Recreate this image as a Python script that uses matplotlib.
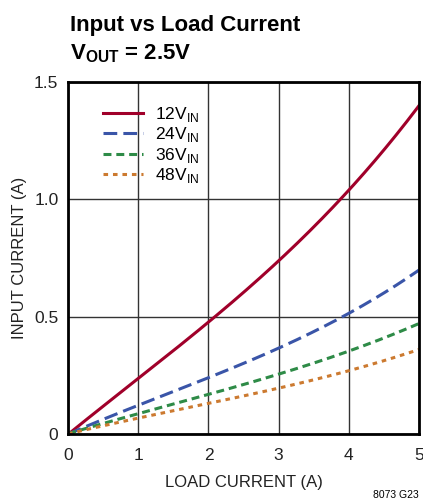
import numpy as np
import matplotlib.pyplot as plt

plt.rcParams['font.family'] = ['Liberation Sans', 'DejaVu Sans']

# Данные
load_current = [0, 1, 2, 3, 4, 5]
i_12v = [0, 0.23, 0.486, 0.733, 1.04, 1.40]
i_24v = [0, 0.12, 0.24, 0.37, 0.51, 0.70]
i_36v = [0, 0.09, 0.165, 0.255, 0.355, 0.47]
i_48v = [0, 0.068, 0.13, 0.195, 0.27, 0.36]
labels = ["12V$_{\\mathregular{IN}}$", "24V$_{\\mathregular{IN}}$",
          "36V$_{\\mathregular{IN}}$", "48V$_{\\mathregular{IN}}$"]

fig = plt.figure(figsize=(4.23, 5.04), dpi=100)
ax = fig.add_axes([0.161, 0.139, 0.8295, 0.698])

# Плавные кривые через точки
xs = np.linspace(0, 5, 200)
def smooth(y):
    c = np.polyfit(load_current, y, 3)
    return np.polyval(c, xs)

lw = 2.2
ax.plot(xs, smooth(i_12v), color="#a0002a", lw=lw, label=labels[0])
ax.plot(xs, smooth(i_24v), color="#3a55a8", lw=lw, dashes=(4.5, 2), label=labels[1])
ax.plot(xs, smooth(i_36v), color="#2e8b47", lw=lw, dashes=(2.6, 1.6), label=labels[2])
ax.plot(xs, smooth(i_48v), color="#cc7a30", lw=lw, dashes=(1.5, 1.6), label=labels[3])

ax.set_xlim(0, 5)
ax.set_ylim(0, 1.5)
ax.set_xticks([0, 1, 2, 3, 4, 5])
ax.set_yticks([0, 0.5, 1.0, 1.5])
ax.set_yticklabels(["0", "0.5", "1.0", "1.5"])
ax.tick_params(length=0, labelsize=12.5, colors="#222222")
ax.tick_params(axis="x", pad=10)
ax.tick_params(axis="y", pad=7)
ax.grid(True, color="#333333", lw=1)
for s in ax.spines.values():
    s.set_linewidth(2)

ax.set_xlabel("LOAD CURRENT (A)", fontsize=12, labelpad=9, color="#222222")
ax.set_ylabel("INPUT CURRENT (A)", fontsize=12, labelpad=5, color="#222222")

leg = ax.legend(loc="upper left", bbox_to_anchor=(0.074, 0.96), frameon=False,
                borderpad=0, fontsize=12.5, handlelength=2.3, handletextpad=0.7,
                labelspacing=0.08)

fig.text(0.165, 0.938, "Input vs Load Current", fontsize=16, fontweight="bold")
fig.text(0.165, 0.882, "V$_{\\mathregular{OUT}}$ = 2.5V", fontsize=16, fontweight="bold")
fig.text(0.99, 0.012, "8073 G23", fontsize=7.5, ha="right")

plt.savefig("out.png", dpi=100)
